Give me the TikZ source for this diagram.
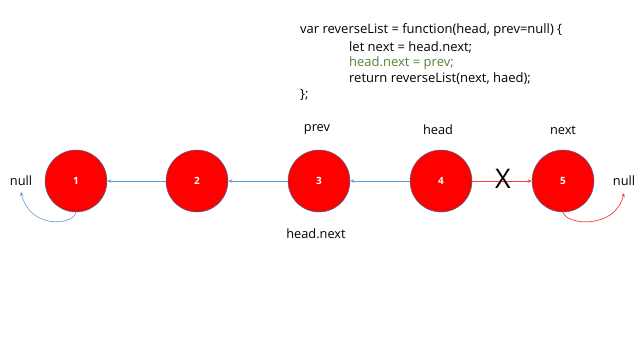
\documentclass[tikz,border=0pt]{standalone}
\usepackage{fontspec}
\setmainfont{Open Sans}
\usetikzlibrary{arrows.meta}
\definecolor{nodered}{HTML}{FF0000}
\definecolor{edgered}{HTML}{FF3B3B}
\definecolor{edgeblue}{HTML}{5B9BD5}
\definecolor{outline}{HTML}{41719C}
\definecolor{codegreen}{HTML}{548235}
\tikzset{
  lnode/.style={circle, draw=outline, line width=0.5pt, fill=nodered, minimum size=62pt, inner sep=0pt, text=white, font=\fontsize{10}{11}\selectfont\bfseries},
  lbl/.style={font=\fontsize{12.8}{14}\selectfont, inner sep=0pt},
  codeline/.style={font=\fontsize{13}{15}\selectfont, inner sep=0pt, anchor=west},
  bluearrow/.style={draw=edgeblue, line width=0.6pt, -{Stealth[length=4pt,width=3.5pt]}},
  redarrow/.style={draw=edgered, line width=0.7pt, -{Stealth[length=4pt,width=3.5pt]}}
}
\begin{document}
\begin{tikzpicture}[x=1pt,y=-1pt]
\useasboundingbox (0,0) rectangle (640,360);
% code
\node[codeline] (c1) at (300,30) {var reverseList = function(head, prev=null) \{};
\node[codeline] (c2) at (349,47) {let next = head.next;};
\node[codeline, text=codegreen] (c3) at (349,63) {head.next = prev;};
\node[codeline] (c4) at (349,79) {return reverseList(next, haed);};
\node[codeline] (c5) at (300,95) {\};};
% nodes
\node[lnode] (n1) at (76,181) {1};
\node[lnode] (n2) at (197,181) {2};
\node[lnode] (n3) at (319,181) {3};
\node[lnode] (n4) at (441,181) {4};
\node[lnode] (n5) at (563,181) {5};
% labels
\node[lbl] (lnull) at (21,181) {null};
\node[lbl] (rnull) at (624,181) {null};
\node[lbl] (prev) at (317,130) {prev};
\node[lbl] (head) at (438,130) {head};
\node[lbl] (next) at (563,130) {next};
\node[lbl] (hn) at (316,234) {head.next};
% connectors
\draw[bluearrow] (n2.west) -- (n1.east);
\draw[bluearrow] (n3.west) -- (n2.east);
\draw[bluearrow] (n4.west) -- (n3.east);
\draw[redarrow] (n4.east) -- (n5.west);
\node[font=\fontsize{27}{28}\selectfont, inner sep=0pt] (x) at (503,179) {X};
\coordinate (lend) at (21,192);
\coordinate (rend) at (624,193);
\draw[bluearrow] (n1.south) .. controls (74,225) and (30,230) .. (lend);
\draw[redarrow] (n5.south) .. controls (566,225) and (615,230) .. (rend);
\end{tikzpicture}
\end{document}
